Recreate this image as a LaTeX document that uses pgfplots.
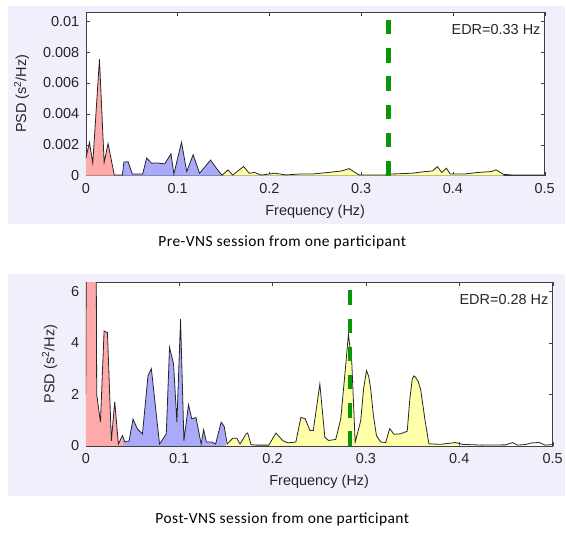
\documentclass[border=0pt]{standalone}
\usepackage{pgfplots}
\pgfplotsset{compat=1.18}
\usepackage{pgfplotstable}
\usepackage{fontspec}
\setmainfont{Liberation Sans}
\newfontfamily\capfont[LetterSpace=3]{Carlito}

\definecolor{panelbg}{RGB}{240,240,252}
\definecolor{vlf}{RGB}{255,170,170}
\definecolor{lf}{RGB}{170,170,250}
\definecolor{hf}{RGB}{255,255,170}
\definecolor{edr}{RGB}{10,150,10}

% pre-VNS spectrum
\pgfplotstableread{
f v
0 0.0011
0.004 0.00215
0.0076 0.0008
0.0149 0.00754
0.020 0.00085
0.0243 0.00207
0.031 0.00004
0.036 0.00003
0.04 0.00004
0.0415 0.00087
0.046 0.0009
0.0507 0.0001
0.062 0.0001
0.0663 0.00113
0.0717 0.0008
0.077 0.00082
0.086 0.00076
0.0928 0.0014
0.096 0.0001
0.1043 0.00215
0.110 0.00026
0.117 0.00135
0.124 0.00015
0.136 0.001
0.142 0.0005
0.148 0.00004
0.15 0.0001
0.155 0.00037
0.160 0.00003
0.172 0.00059
0.178 0.00015
0.184 0.0002
0.191 0.00003
0.206 0.00015
0.218 0.00004
0.233 0.0001
0.247 0.0001
0.264 0.0002
0.279 0.0003
0.287 0.00045
0.292 0.00025
0.298 0.00004
0.326 0.00004
0.333 0.0001
0.355 0.00015
0.369 0.00025
0.378 0.0003
0.383 0.00058
0.388 0.0002
0.393 0.00048
0.397 0.0001
0.413 0.0001
0.427 0.0002
0.442 0.00026
0.447 0.00037
0.455 0.00008
0.464 0.00004
0.5 0.00004
}\pre

% post-VNS spectrum
\pgfplotstableread{
f v
0 2.0
0.00585 60
0.0117 2.0
0.0157 0.92
0.0196 4.46
0.0232 4.4
0.0274 0.2
0.031 1.72
0.0349 0.07
0.0392 0.4
0.04 0.33
0.042 0.15
0.0434 0.18
0.0463 0.18
0.0506 1.04
0.0553 0.66
0.0607 0.46
0.0666 2.72
0.0702 3.0
0.079 0.07
0.0862 0.46
0.0897 3.82
0.094 3.18
0.0976 0.92
0.1015 4.92
0.1051 0.2
0.110 1.6
0.1135 1.05
0.118 1.1
0.1236 0.07
0.1262 0.63
0.1292 0.15
0.135 0.15
0.139 0.07
0.145 0.92
0.1483 0.75
0.15 0.38
0.1514 0.07
0.1574 0.3
0.1617 0.3
0.1652 0.07
0.1716 0.46
0.1734 0.5
0.177 0.05
0.182 0.03
0.196 0.03
0.2037 0.5
0.211 0.2
0.2164 0.12
0.225 0.15
0.2304 1.11
0.235 1.05
0.24 0.6
0.2437 0.6
0.2507 2.4
0.256 0.34
0.26 0.21
0.2677 0.25
0.2731 1.05
0.2785 3.17
0.2813 4.33
0.2849 3.24
0.2885 0.14
0.2945 0.98
0.2975 2.2
0.3006 2.92
0.303 2.7
0.3052 2.2
0.308 1.2
0.3113 0.4
0.3159 0.15
0.3212 0.13
0.3255 0.67
0.3301 0.45
0.3372 0.47
0.3443 0.57
0.347 1.8
0.3497 2.6
0.3515 2.72
0.3532 2.66
0.356 2.5
0.3586 2.2
0.3632 1.03
0.3675 0.08
0.38 0.06
0.396 0.13
0.40 0.09
0.403 0.06
0.424 0.03
0.45 0.04
0.4572 0.13
0.462 0.03
0.47 0.05
0.4786 0.12
0.4857 0.13
0.492 0.03
0.5 0.05
}\post

\pgfplotsset{
  psd/.style={
    scale only axis, height=164pt,
    xmin=0, xmax=0.5, ymin=0,
    xtick={0,0.1,0.2,0.3,0.4,0.5},
    xticklabels={0,0.1,0.2,0.3,0.4,0.5},
    tick pos=both, tick align=inside,
    major tick length=4pt,
    axis line style={black!75},
    tick style={black!75},
    /pgf/number format/assume math mode=true,
    tick label style={font=\fontsize{14.5}{16}\selectfont, text=black!85},
    xticklabel style={yshift=-4pt},
    yticklabel style={xshift=-3pt},
    label style={font=\fontsize{14.5}{16}\selectfont, text=black!85},
    xlabel style={yshift=-5pt},
    ylabel style={yshift=7pt},
    xlabel={Frequency (Hz)},
    ylabel={PSD (s\textsuperscript{2}/Hz)},
    axis background/.style={fill=white},
    clip=true,
  },
  band/.style={draw=none, fill=#1},
}

\begin{document}
\begin{tikzpicture}[x=1pt,y=1pt]
\fill[white] (0,0) rectangle (566,534);
\fill[panelbg] (8,309) rectangle (566,528);
\fill[panelbg] (8,37) rectangle (566,259);

\begin{axis}[psd, at={(86pt,358pt)}, anchor=south west, width=460pt,
  ymax=0.0106, ytick={0,0.002,0.004,0.006,0.008,0.01},
  yticklabels={0,0.002,0.004,0.006,0.008,0.01}, scaled y ticks=false]
\addplot[band=vlf, restrict x to domain=0:0.04] table[x=f,y=v]{\pre} \closedcycle;
\addplot[band=lf, restrict x to domain=0.04:0.15] table[x=f,y=v]{\pre} \closedcycle;
\addplot[band=hf, restrict x to domain=0.15:0.455] table[x=f,y=v]{\pre} \closedcycle;
\addplot[black!85, line width=0.8pt] table[x=f,y=v]{\pre};
\addplot[edr, line width=4.5pt, dash pattern=on 14.5pt off 13.8pt] coordinates {(0.33,0) (0.33,0.0102)};
\node[anchor=north east, inner sep=0pt, font=\fontsize{14.5}{16}\selectfont, text=black!85] at (rel axis cs:1,1) [xshift=-4pt, yshift=-12pt] {EDR=0.33 Hz};
\end{axis}
\node[font=\capfont\fontsize{15.5}{18}\selectfont] at (283,291) {Pre-VNS session from one participant};

\begin{axis}[psd, at={(86pt,87pt)}, anchor=south west, width=468pt,
  ymax=6.35, ytick={0,2,4,6}, yticklabels={0,2,4,6}]
\addplot[band=vlf, restrict x to domain=0:0.04] table[x=f,y=v]{\post} \closedcycle;
\addplot[band=lf, restrict x to domain=0.04:0.15] table[x=f,y=v]{\post} \closedcycle;
\addplot[band=hf, restrict x to domain=0.15:0.40] table[x=f,y=v]{\post} \closedcycle;
\addplot[black!85, line width=0.8pt] table[x=f,y=v]{\post};
\addplot[edr, line width=4.5pt, dash pattern=on 14.5pt off 13.8pt] coordinates {(0.283,0) (0.283,6.05)};
\node[anchor=north east, inner sep=0pt, font=\fontsize{14.5}{16}\selectfont, text=black!85] at (rel axis cs:1,1) [xshift=-4pt, yshift=-12pt] {EDR=0.28 Hz};
\end{axis}
\node[font=\capfont\fontsize{15.5}{18}\selectfont] at (283,13) {Post-VNS session from one participant};
\end{tikzpicture}
\end{document}
